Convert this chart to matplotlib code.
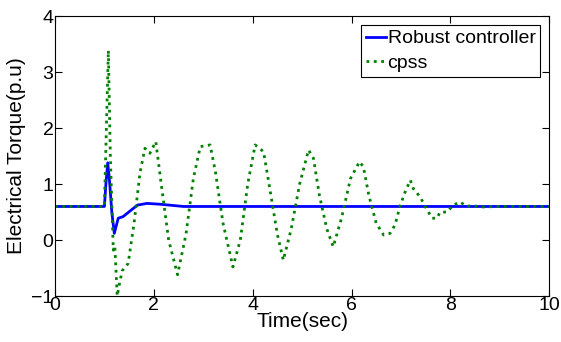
import matplotlib
matplotlib.use("Agg")
import matplotlib.pyplot as plt

plt.rcParams["font.family"] = ["Liberation Sans", "DejaVu Sans"]

# Robust controller response
t_robust = [0, 1.0, 1.03, 1.067, 1.1, 1.15, 1.2, 1.28, 1.38, 1.52, 1.67, 1.86,
            2.13, 2.6, 3.0, 10]
y_robust = [0.6, 0.6, 1.0, 1.38, 1.1, 0.5, 0.12, 0.39, 0.42, 0.52, 0.625, 0.655,
            0.64, 0.6, 0.6, 0.6]

# cpss response
t_cpss = [0, 1.0, 1.04, 1.08, 1.12, 1.18, 1.21, 1.26, 1.3, 1.36, 1.42, 1.48,
          1.6, 1.72, 1.82, 1.92, 2.04, 2.15, 2.3, 2.48, 2.65, 2.8, 2.94, 3.14,
          3.25, 3.4, 3.6, 3.75, 3.9, 4.05, 4.22, 4.35, 4.5, 4.62, 4.78, 4.95,
          5.13, 5.23, 5.35, 5.5, 5.63, 5.8, 5.98, 6.16, 6.24, 6.35, 6.5, 6.65,
          6.78, 6.88, 6.98, 7.08, 7.19, 7.25, 7.39, 7.49, 7.63, 7.73, 7.79,
          7.93, 8.06, 8.2, 8.33, 8.44, 8.6, 9.0, 10]
y_cpss = [0.6, 0.6, 2.0, 3.39, 1.5, -0.18, -0.1, -1.0, -0.8, -0.55, -0.48, -0.42,
          0.3, 1.2, 1.64, 1.55, 1.76, 1.0, 0.0, -0.62, 0.1, 1.1, 1.67, 1.7,
          1.2, 0.3, -0.48, 0.0, 1.0, 1.7, 1.58, 0.9, 0.1, -0.36, 0.2, 1.0,
          1.61, 1.46, 0.8, 0.2, -0.12, 0.4, 1.1, 1.40, 1.31, 0.8, 0.3, 0.09,
          0.12, 0.27, 0.6, 0.85, 1.07, 0.92, 0.77, 0.6, 0.39, 0.39, 0.5,
          0.5, 0.625, 0.68, 0.6, 0.62, 0.59, 0.6, 0.6]

fig = plt.figure(figsize=(5.61, 3.42), dpi=100)
ax = fig.add_axes([0.098, 0.1345, 0.881, 0.818])

ax.plot(t_robust, y_robust, color="#0000ff", linewidth=2, label="Robust controller")
ax.plot(t_cpss, y_cpss, color="#008000", linewidth=2, linestyle=":", label="cpss")

ax.set_xlim(0, 10)
ax.set_ylim(-1, 4)
ax.set_xticks([0, 2, 4, 6, 8, 10])
ax.set_yticks([-1, 0, 1, 2, 3, 4])
ax.tick_params(direction="in", top=True, right=True, labelsize=14, length=5, pad=1)
ax.set_xlabel("Time(sec)", fontsize=15, labelpad=-2)
ax.set_ylabel("Electrical Torque(p.u)", fontsize=15, labelpad=4)

leg = ax.legend(loc="upper right", fontsize=14, handlelength=1.0, handletextpad=0.1,
                borderpad=0.25, labelspacing=0.35, fancybox=False, framealpha=1,
                borderaxespad=0.45)
leg.get_frame().set_edgecolor("black")
leg.get_frame().set_linewidth(0.8)

fig.savefig("out.png", dpi=100)
